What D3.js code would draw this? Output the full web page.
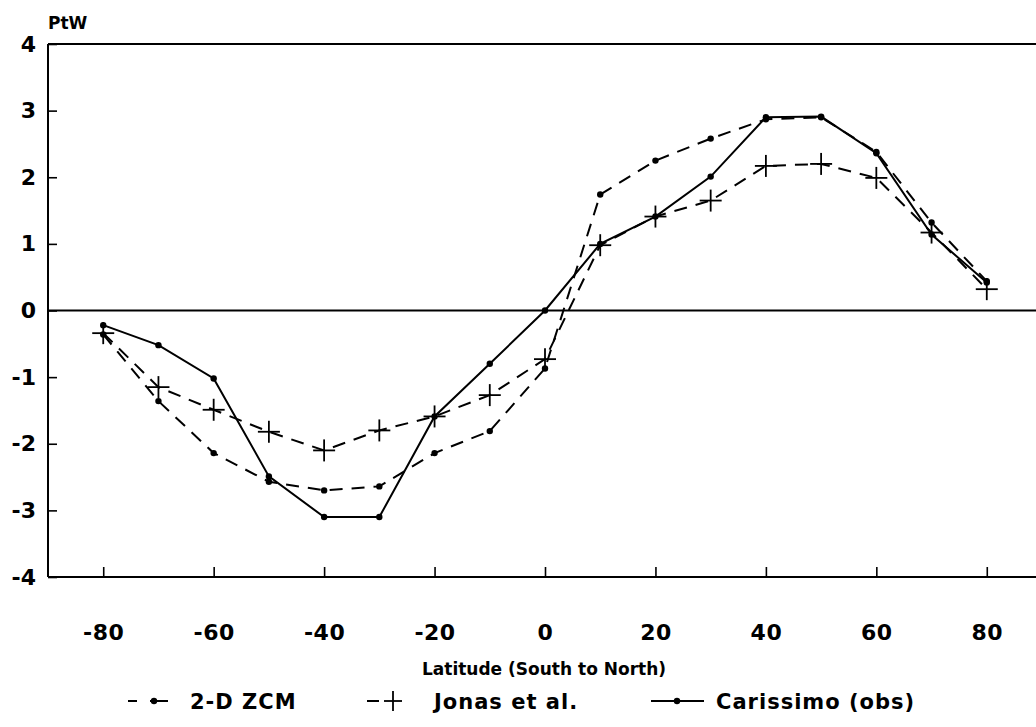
<!DOCTYPE html>
<html>
<head>
<meta charset="utf-8">
<script src="https://cdn.jsdelivr.net/npm/d3@7"></script>
<style>
  html, body { margin: 0; padding: 0; background: #fff; }
  svg { display: block; }
  text { font-family: "DejaVu Sans", sans-serif; fill: #000; }
</style>
</head>
<body>
<svg id="chart" width="1036" height="727"></svg>
<script>
// ---- data ----
const latitudes = [-80, -70, -60, -50, -40, -30, -20, -10, 0, 10, 20, 30, 40, 50, 60, 70, 80];
const zcm2d     = [-0.36, -1.36, -2.14, -2.57, -2.70, -2.64, -2.14, -1.81, -0.87, 1.74, 2.25, 2.58, 2.87, 2.90, 2.38, 1.32, 0.44];
const jonas     = [-0.34, -1.15, -1.49, -1.82, -2.10, -1.80, -1.59, -1.27, -0.73, 0.98, 1.41, 1.65, 2.17, 2.20, 1.99, 1.17, 0.32];
const carissimo = [-0.22, -0.52, -1.02, -2.49, -3.10, -3.10, -1.59, -0.80, 0.00, 1.00, 1.41, 2.01, 2.90, 2.91, 2.36, 1.14, 0.42];
const xTicks = [-80, -60, -40, -20, 0, 20, 40, 60, 80];
const yTicks = [-4, -3, -2, -1, 0, 1, 2, 3, 4];
const yUnit = "PtW";
const xTitle = "Latitude (South to North)";
const legendLabels = ["2-D ZCM", "Jonas et al.", "Carissimo (obs)"];

// ---- layout ----
const W = 1036, H = 727;
const svg = d3.select("#chart");
const x = d3.scaleLinear().domain([-90, 90]).range([48, 1042]);
const y = d3.scaleLinear().domain([-4, 4]).range([577, 44]);
const fmt = d => String(d);

// axes
const gx = svg.append("g").attr("transform", `translate(0,${y(-4)})`)
  .call(d3.axisBottom(x).tickValues(xTicks).tickSizeInner(-10).tickSizeOuter(0).tickPadding(47).tickFormat(fmt));
gx.select(".domain").remove();
gx.selectAll(".tick line").attr("stroke", "#000").attr("stroke-width", 1.6);
gx.selectAll(".tick text").attr("font-size", 22).attr("font-weight", "bold").attr("letter-spacing", 0.5)
  .attr("font-family", "DejaVu Sans").attr("fill", "#000");

const gy = svg.append("g").attr("transform", `translate(${x(-90)},0)`)
  .call(d3.axisLeft(y).tickValues(yTicks).tickSizeInner(-9).tickSizeOuter(0).tickPadding(12).tickFormat(fmt));
gy.select(".domain").remove();
gy.selectAll(".tick line").attr("stroke", "#000").attr("stroke-width", 1.6);
gy.selectAll(".tick text").attr("font-size", 22).attr("font-weight", "bold")
  .attr("font-family", "DejaVu Sans").attr("fill", "#000");

// frame lines
const frame = svg.append("g").attr("stroke", "#000").attr("stroke-width", 2);
frame.append("line").attr("x1", x(-90)).attr("x2", x(-90)).attr("y1", y(4)).attr("y2", y(-4));
frame.append("line").attr("x1", x(-90)).attr("x2", W).attr("y1", y(4)).attr("y2", y(4));
frame.append("line").attr("x1", x(-90)).attr("x2", W).attr("y1", y(-4)).attr("y2", y(-4));
frame.append("line").attr("x1", x(-90)).attr("x2", W).attr("y1", y(0)).attr("y2", y(0));

// unit & title
svg.append("text").attr("x", 48).attr("y", 29).attr("font-size", 17).attr("font-weight", "bold").text(yUnit);
svg.append("text").attr("x", 544).attr("y", 675).attr("text-anchor", "middle")
  .attr("font-size", 17).attr("font-weight", "bold").text(xTitle);

// series
const line = d3.line().x(d => x(d[0])).y(d => y(d[1]));
const pts = arr => latitudes.map((l, i) => [l, arr[i]]);

// 2-D ZCM dashed with dots
svg.append("path").datum(pts(zcm2d)).attr("d", line).attr("fill", "none")
  .attr("stroke", "#000").attr("stroke-width", 2).attr("stroke-dasharray", "13,9");
svg.append("g").selectAll("circle").data(pts(zcm2d)).join("circle")
  .attr("cx", d => x(d[0])).attr("cy", d => y(d[1])).attr("r", 3.2).attr("fill", "#000");

// Jonas dashed with plus
svg.append("path").datum(pts(jonas)).attr("d", line).attr("fill", "none")
  .attr("stroke", "#000").attr("stroke-width", 2).attr("stroke-dasharray", "13,9");
const plus = svg.append("g").attr("stroke", "#000").attr("stroke-width", 1.8);
pts(jonas).forEach(d => {
  const cx = x(d[0]), cy = y(d[1]);
  plus.append("line").attr("x1", cx - 11).attr("x2", cx + 11).attr("y1", cy).attr("y2", cy);
  plus.append("line").attr("x1", cx).attr("x2", cx).attr("y1", cy - 11).attr("y2", cy + 11);
});

// Carissimo solid with dots
svg.append("path").datum(pts(carissimo)).attr("d", line).attr("fill", "none")
  .attr("stroke", "#000").attr("stroke-width", 2);
svg.append("g").selectAll("circle").data(pts(carissimo)).join("circle")
  .attr("cx", d => x(d[0])).attr("cy", d => y(d[1])).attr("r", 3.2).attr("fill", "#000");

// legend
const ly = 701;
const lg = svg.append("g").attr("stroke", "#000").attr("stroke-width", 2);
lg.append("line").attr("x1", 128).attr("x2", 137).attr("y1", ly).attr("y2", ly);
lg.append("line").attr("x1", 150).attr("x2", 168).attr("y1", ly).attr("y2", ly);
svg.append("circle").attr("cx", 154).attr("cy", ly).attr("r", 3.2).attr("fill", "#000");
lg.append("line").attr("x1", 367).attr("x2", 379).attr("y1", ly).attr("y2", ly);
lg.append("line").attr("x1", 384).attr("x2", 402).attr("y1", ly).attr("y2", ly).attr("stroke-width", 1.8);
lg.append("line").attr("x1", 393).attr("x2", 393).attr("y1", ly - 10).attr("y2", ly + 10).attr("stroke-width", 1.8);
lg.append("line").attr("x1", 651).attr("x2", 704).attr("y1", ly).attr("y2", ly);
svg.append("circle").attr("cx", 677).attr("cy", ly).attr("r", 3.2).attr("fill", "#000");

const legX = [190, 434, 716];
legendLabels.forEach((t, i) => {
  svg.append("text").attr("x", legX[i]).attr("y", ly + 8).attr("font-size", 21)
    .attr("font-weight", "bold").attr("letter-spacing", 1).text(t);
});
</script>
</body>
</html>
